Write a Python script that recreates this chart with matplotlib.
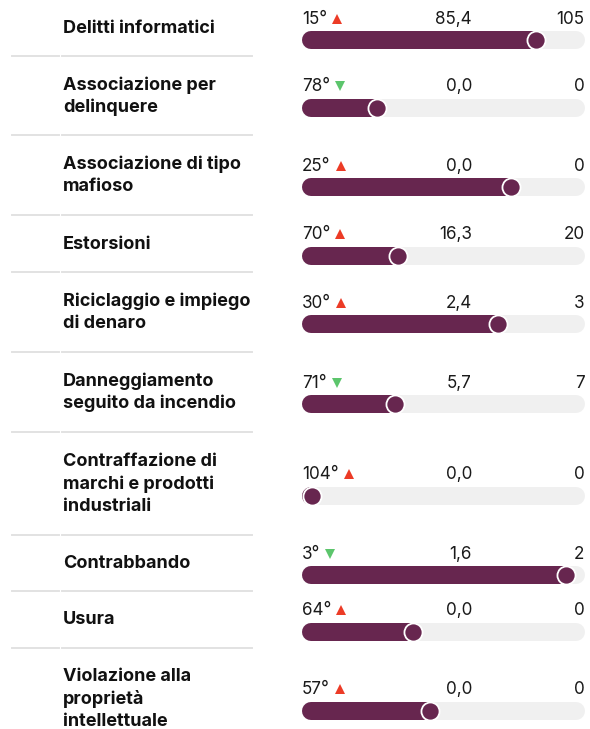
import matplotlib.pyplot as plt

# data
crimes = ['Delitti informatici', 'Associazione per\ndelinquere',
          'Associazione di tipo\nmafioso', 'Estorsioni',
          'Riciclaggio e impiego\ndi denaro', 'Danneggiamento\nseguito da incendio',
          'Contraffazione di\nmarchi e prodotti\nindustriali', 'Contrabbando',
          'Usura', 'Violazione alla\nproprietà\nintellettuale']
ranks = [15, 78, 25, 70, 30, 71, 104, 3, 64, 57]
trend = ['up', 'down', 'up', 'up', 'up', 'down', 'up', 'down', 'up', 'up']
rates = [85.4, 0.0, 0.0, 16.3, 2.4, 5.7, 0.0, 1.6, 0.0, 0.0]
counts = [105, 0, 0, 20, 3, 7, 0, 2, 0, 0]
worst_rank = 104

PURPLE = '#67264f'
TRACK = '#f0f0f0'
RED = '#ec3b26'
GREEN = '#5cc56c'
SEP = '#e2e2e2'

# row layout (pixels)
seps = [56, 135, 215, 272, 352, 432, 535, 591, 648]
tops = [0] + seps
bottoms = seps + [749]

W, H = 590, 729
fig = plt.figure(figsize=(W / 100, H / 100), dpi=100)
ax = fig.add_axes([0, 0, 1, 1])
ax.set_xlim(0, W)
ax.set_ylim(H, 0)
ax.axis('off')

# bar axes: x in rank units (rank 1 on the right)
trk_l, trk_r = 301.7, 585
px_per_rank = 2.515
x_left = worst_rank + (312 - trk_l) / px_per_rank
x_right = 3 - (trk_r - 566) / px_per_rank
bax = fig.add_axes([trk_l / W, 0, (trk_r - trk_l) / W, 1])
bax.set_xlim(x_left, x_right)
bax.set_ylim(H, 0)
bax.axis('off')

bar_h = 18  # px
lw = bar_h * 0.72
cap = (bar_h / 2) / px_per_rank

lab_font = 'Inter'
num_font = 'Inter'
renderer = fig.canvas.get_renderer()

for i in range(len(crimes)):
    yc = (tops[i] + bottoms[i]) / 2
    yb = yc + 12.3
    base = yb - 16.4

    ax.text(63, yc + 0.5, crimes[i], ha='left', va='center', fontsize=13,
            fontweight='bold', family=lab_font, color='#111111', linespacing=1.36)

    # rank text + triangle right after it
    t = ax.text(302, base, f'{ranks[i]}°', ha='left', va='baseline',
                fontsize=12.3, family=num_font, color='#1a1a1a')
    bb = t.get_window_extent(renderer=renderer)
    tx = ax.transData.inverted().transform((bb.x1, 0))[0] + 10
    if trend[i] == 'up':
        ax.plot(tx, base - 5, marker='^', ms=7.5, color=RED, mew=0)
    else:
        ax.plot(tx, base - 5, marker='v', ms=7.5, color=GREEN, mew=0)
    ax.text(472, base, f'{rates[i]:.1f}'.replace('.', ','), ha='right',
            va='baseline', fontsize=12.3, family=num_font, color='#1a1a1a')
    ax.text(584.5, base, str(counts[i]), ha='right', va='baseline',
            fontsize=12.3, family=num_font, color='#1a1a1a')

    # track, fill and dot
    bax.plot([x_left - cap, x_right + cap], [yb, yb], color=TRACK, lw=lw,
             solid_capstyle='round', zorder=1)
    bax.plot([x_left - cap, ranks[i]], [yb, yb], color=PURPLE, lw=lw,
             solid_capstyle='round', zorder=2)
    bax.scatter([ranks[i]], [yb], s=170, color=PURPLE, edgecolor='white',
                linewidth=1.3, zorder=3)

# separators
for y in seps:
    ax.plot([12, 59], [y, y], color=SEP, lw=1.4)
    ax.plot([62, 252], [y, y], color=SEP, lw=1.4)

fig.savefig('out.png', dpi=100)
